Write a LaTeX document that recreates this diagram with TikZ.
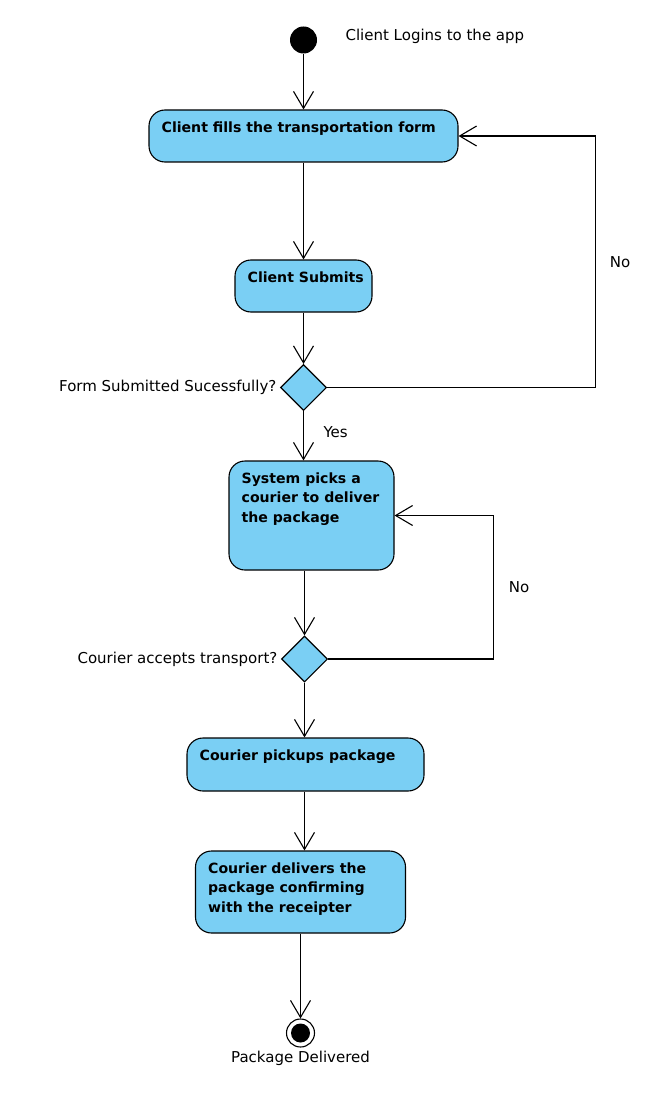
\documentclass[tikz,border=0pt]{standalone}
\usepackage{fontspec}
\setmainfont{DejaVu Sans}
\usetikzlibrary{shapes.geometric,arrows.meta}
\definecolor{actblue}{RGB}{122,207,244}

\tikzset{
  act/.style={draw, fill=actblue, rounded corners=16pt, line width=1.1pt},
  cond/.style={draw, fill=actblue, diamond, inner sep=0pt, minimum width=46pt, minimum height=46pt, line width=1.1pt},
  acttext/.style={anchor=north west, inner sep=0pt, xshift=13pt, yshift=-12pt, align=left, font=\bfseries\fontsize{14.1}{19.6}\selectfont},
  note/.style={font=\fontsize{15}{18}\selectfont},
  flow/.style={-{Straight Barb[length=17pt,width=20pt]}, line width=1.1pt},
}

\begin{document}
\begin{tikzpicture}[x=1pt, y=-1pt]
    \useasboundingbox (0,0) rectangle (660,1102);

    \node[circle, fill=black, minimum size=27pt, inner sep=0pt] (start) at (303.5,40) {};
    \node[note, anchor=west] (logintxt) at (342,36) {Client Logins to the app};

    \node[act, minimum width=309pt, minimum height=52pt, label={[acttext]north west:Client fills the transportation form}] (fillform) at (303.5,136) {};
    \node[act, minimum width=137pt, minimum height=52pt, label={[acttext]north west:Client Submits}] (submit) at (303.5,286) {};
    \node[cond, label={[note]left:Form Submitted Sucessfully?}] (dec1) at (303.5,387.5) {};
    \node[note, anchor=west] (yes) at (320,432) {Yes};
    \node[note] (no1) at (620,262) {No};

    \node[act, minimum width=165pt, minimum height=109pt, label={[acttext]north west:{System picks a\\courier to deliver\\the package}}] (sys) at (311.5,515.5) {};
    \node[cond, label={[note]left:Courier accepts transport?}] (dec2) at (304.5,659) {};
    \node[note] (no2) at (519,587) {No};

    \node[act, minimum width=237pt, minimum height=53pt, label={[acttext]north west:Courier pickups package}] (pickup) at (305.5,764.5) {};
    \node[act, minimum width=210pt, minimum height=82pt, label={[acttext]north west:{Courier delivers the\\package confirming\\with the receipter}}] (deliver) at (300.5,892) {};

    \node[circle, draw, line width=1.1pt, minimum size=28pt, inner sep=0pt,
      path picture={\fill (path picture bounding box.center) circle (9.5pt);},
      label={[note]below:Package Delivered}] (stop) at (300.5,1033) {};

    \draw[flow] (start) -- (start |- fillform.north);
    \draw[flow] (fillform) -- (submit);
    \draw[flow] (submit) -- (dec1);
    \draw[flow] (dec1) -- (dec1 |- sys.north);
    \draw[flow] (dec2 |- sys.south) -- (dec2.north);
    \draw[flow] (dec2) -- (dec2 |- pickup.north);
    \draw[flow] (pickup.south -| dec2) -- (dec2 |- deliver.north);
    \draw[flow] (deliver) -- (stop);

    \draw[flow] (dec1.east) -- ++(268,0) |- (fillform.east);
    \draw[flow] (dec2.east) -- ++(165,0) |- (sys.east);
  \end{tikzpicture}
\end{document}
